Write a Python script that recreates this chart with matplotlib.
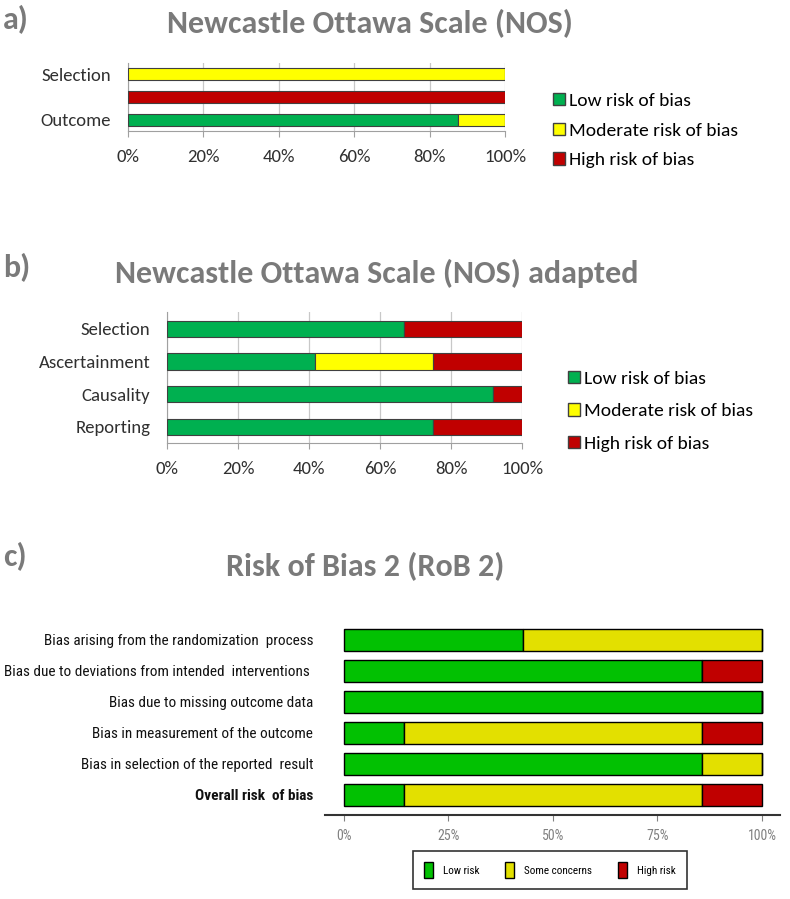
import numpy as np
import matplotlib.pyplot as plt
from matplotlib.patches import Patch

# panel a: Newcastle Ottawa Scale
nos_labels = ['Selection', '', 'Outcome']
nos_low = [0, 0, 87.5]
nos_mod = [100, 0, 12.5]
nos_high = [0, 100, 0]

# panel b: NOS adapted
nosa_labels = ['Selection', 'Ascertainment', 'Causality', 'Reporting']
nosa_low = [66.7, 41.7, 91.7, 75.0]
nosa_mod = [0, 33.3, 0, 0]
nosa_high = [33.3, 25.0, 8.3, 25.0]

# panel c: RoB 2
rob_labels = ['Bias arising from the randomization  process',
              'Bias due to deviations from intended  interventions ',
              'Bias due to missing outcome data',
              'Bias in measurement of the outcome',
              'Bias in selection of the reported  result',
              'Overall risk  of bias']
rob_low = [42.9, 85.7, 100, 14.3, 85.7, 14.3]
rob_some = [57.1, 0, 0, 71.4, 14.3, 71.4]
rob_high = [0, 14.3, 0, 14.3, 0, 14.3]

W, H = 790, 899
fig = plt.figure(figsize=(W / 100, H / 100), dpi=100)

def box(l, t, r, b):
    return [l / W, 1 - b / H, (r - l) / W, (b - t) / H]

CAL = ['Carlito', 'Lato', 'DejaVu Sans']
NAR = ['Roboto Condensed', 'Archivo Narrow', 'Liberation Sans']
title_kw = dict(fontfamily=CAL, fontweight='bold', color='#7a7a7a', fontsize=23)
lab_kw = dict(fontfamily=CAL, color='#303030')
G1, Y1, R1 = '#00B050', '#FFFF00', '#C00000'
G2, Y2, R2 = '#02C102', '#E3E000', '#C00000'


def nos_panel(ax, labels, low, mod, high, ylim):
    y = np.arange(len(labels))
    low = np.array(low); mod = np.array(mod); high = np.array(high)
    kw = dict(height=0.5, edgecolor='#404040', linewidth=0.8, zorder=3)
    ax.barh(y, low, color=G1, **kw)
    ax.barh(y, mod, left=low, color=Y1, **kw)
    ax.barh(y, high, left=low + mod, color=R1, **kw)
    ax.set_xlim(0, 100)
    ax.set_ylim(*ylim)
    ax.set_yticks(y)
    ax.set_yticklabels(labels, **lab_kw, fontsize=13.5)
    ax.set_xticks(np.arange(0, 101, 20))
    ax.set_xticklabels([f'{v}%' for v in range(0, 101, 20)], **lab_kw, fontsize=13.5)
    ax.grid(axis='x', color='#c8c8c8', linewidth=0.9, zorder=0)
    for s in ['top', 'right']:
        ax.spines[s].set_visible(False)
    for s in ['left', 'bottom']:
        ax.spines[s].set_color('#a0a0a0')
    ax.tick_params(axis='y', length=0, pad=12)
    ax.tick_params(axis='x', length=4, color='#a0a0a0', pad=9)


def nos_legend(x, y, spacing):
    hs = [Patch(facecolor=G1, edgecolor='#404040'),
          Patch(facecolor=Y1, edgecolor='#404040'),
          Patch(facecolor=R1, edgecolor='#404040')]
    fig.legend(hs, ['Low risk of bias', 'Moderate risk of bias', 'High risk of bias'],
               loc='upper left', bbox_to_anchor=(x / W, 1 - y / H), frameon=False,
               handlelength=0.6, handleheight=0.6, handletextpad=0.2,
               labelspacing=spacing, borderaxespad=0, borderpad=0,
               prop=dict(family=CAL, size=14))


# a)
fig.text(3 / W, 1 - 20 / H, 'a)', va='center', ha='left', **title_kw)
fig.text(370 / W, 1 - 24 / H, 'Newcastle Ottawa Scale (NOS)', va='center', ha='center', **title_kw)
ax_a = fig.add_axes(box(128, 63, 505, 131))
nos_panel(ax_a, nos_labels, nos_low, nos_mod, nos_high, (2.48, -0.48))
nos_legend(553, 93, 0.7)

# b)
fig.text(3 / W, 1 - 268 / H, 'b)', va='center', ha='left', **title_kw)
fig.text(377 / W, 1 - 273 / H, 'Newcastle Ottawa Scale (NOS) adapted', va='center', ha='center', **title_kw)
ax_b = fig.add_axes(box(167, 312, 522, 443))
nos_panel(ax_b, nosa_labels, nosa_low, nosa_mod, nosa_high, (3.49, -0.52))
nos_legend(568, 371, 0.84)

# c)
fig.text(3 / W, 1 - 557 / H, 'c)', va='center', ha='left', **title_kw)
fig.text(365 / W, 1 - 567 / H, 'Risk of Bias 2 (RoB 2)', va='center', ha='center', **title_kw)
ax_c = fig.add_axes(box(325, 625, 780, 815))
y = np.arange(len(rob_labels))
rl = np.array(rob_low); rs = np.array(rob_some); rh = np.array(rob_high)
kw = dict(height=0.69, edgecolor='black', linewidth=1.0)
ax_c.barh(y, rl, color=G2, **kw)
ax_c.barh(y, rs, left=rl, color=Y2, **kw)
ax_c.barh(y, rh, left=rl + rs, color=R2, **kw)
ax_c.set_xlim(-4.5, 104.3)
ax_c.set_ylim(5.65, -0.48)
ax_c.set_yticks(y)
ax_c.set_yticklabels(rob_labels, fontfamily=NAR, fontsize=11, color='#111111')
ax_c.get_yticklabels()[-1].set_fontweight('bold')
ax_c.set_xticks([0, 25, 50, 75, 100])
ax_c.set_xticklabels(['0%', '25%', '50%', '75%', '100%'], fontfamily=NAR,
                     fontsize=10, color='#808080')
for s in ['top', 'right', 'left']:
    ax_c.spines[s].set_visible(False)
ax_c.spines['bottom'].set_linewidth(1.5)
ax_c.spines['bottom'].set_color('#333333')
ax_c.tick_params(axis='y', length=0, pad=8.5)
ax_c.tick_params(axis='x', length=4, width=0.8, color='#808080', pad=6)

hs = [Patch(facecolor=G2, edgecolor='black'), Patch(facecolor=Y2, edgecolor='black'),
      Patch(facecolor=R2, edgecolor='black')]
leg = fig.legend(hs, ['Low risk', 'Some concerns', 'High risk'], loc='center',
                 bbox_to_anchor=(550 / W, 1 - 870 / H), ncol=3, frameon=True, fancybox=False,
                 handlelength=0.8, handleheight=1.9, handletextpad=0.9, columnspacing=2.3,
                 borderpad=1.0, prop=dict(family=NAR, size=8))
leg.get_frame().set_edgecolor('black')
leg.get_frame().set_linewidth(1.2)

fig.savefig('out.png', dpi=100)
